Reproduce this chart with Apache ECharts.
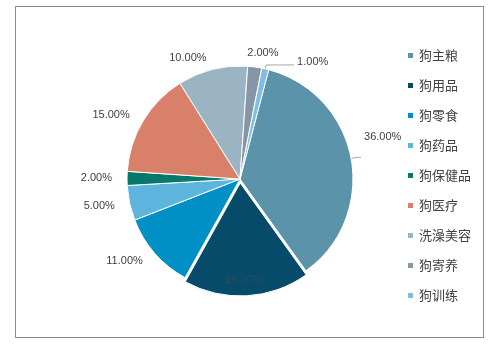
<!DOCTYPE html>
<html>
<head>
<meta charset="utf-8">
<script src="https://cdn.jsdelivr.net/npm/echarts@6/dist/echarts.min.js"></script>
<style>
  html, body { margin: 0; padding: 0; background: #fff; }
  #chart { width: 498px; height: 351px; }
  .frame { position: absolute; left: 15px; top: 6px; width: 469px; height: 332px; border: 1px solid #8c8c8c; box-sizing: border-box; }
</style>
</head>
<body>
<div class="frame"></div>
<div id="chart"></div>
<script>
// 宠物狗消费结构
const categories = ['狗主粮', '狗用品', '狗零食', '狗药品', '狗保健品', '狗医疗', '洗澡美容', '狗寄养', '狗训练']
const shares = [36, 18, 11, 5, 2, 15, 10, 2, 1]
const colors = ['#5b93ab', '#064c6a', '#0190c6', '#5db5dd', '#06786c', '#d9806a', '#9bb4c3', '#8796a6', '#80bde6']

// 标签微调（按名称）
const labelShift = {
  '狗用品': [0, 38],
  '狗主粮': [0, -20],
  '狗寄养': [-12, -2],
  '狗训练': [0, -3]
}

const myChart = echarts.init(document.getElementById('chart'))

const pieData = categories.map((name, i) => {
  const item = { name: name, value: shares[i] }
  if (name === '狗用品') {
    item.selected = true
    item.label = { position: 'inside', color: '#34495a' }
  }
  // 只有两处显示引导线
  if (name === '狗主粮') {
    item.labelLine = { show: true, length: 6, length2: 4 }
  }
  if (name === '狗训练') {
    item.labelLine = { show: true, length: 4, length2: 28 }
  }
  return item
})

const option = {
  color: colors,
  legend: {
    orient: 'vertical',
    right: 22,
    top: 44,
    itemWidth: 7,
    itemHeight: 7,
    itemGap: 17,
    icon: 'rect',
    textStyle: { fontSize: 13, color: '#404040', fontFamily: 'Noto Sans CJK SC' },
    data: categories
  },
  series: [
    {
      type: 'pie',
      center: [240, 179],
      radius: 113,
      startAngle: 75.3,
      clockwise: true,
      selectedMode: 'single',
      selectedOffset: 4,
      avoidLabelOverlap: false,
      itemStyle: { borderColor: '#fff', borderWidth: 1 },
      label: {
        formatter: p => p.value.toFixed(2) + '%',
        fontSize: 11,
        color: '#404040',
        fontFamily: 'Liberation Sans',
        distanceToLabelLine: 3
      },
      labelLine: { show: false, length: 12, length2: 0, lineStyle: { color: '#a6a6a6', width: 1 } },
      labelLayout: params => {
        const s = labelShift[categories[params.dataIndex]]
        return s ? { dx: s[0], dy: s[1] } : {}
      },
      emphasis: { disabled: true },
      data: pieData
    }
  ]
}

myChart.setOption(option)
</script>
</body>
</html>
